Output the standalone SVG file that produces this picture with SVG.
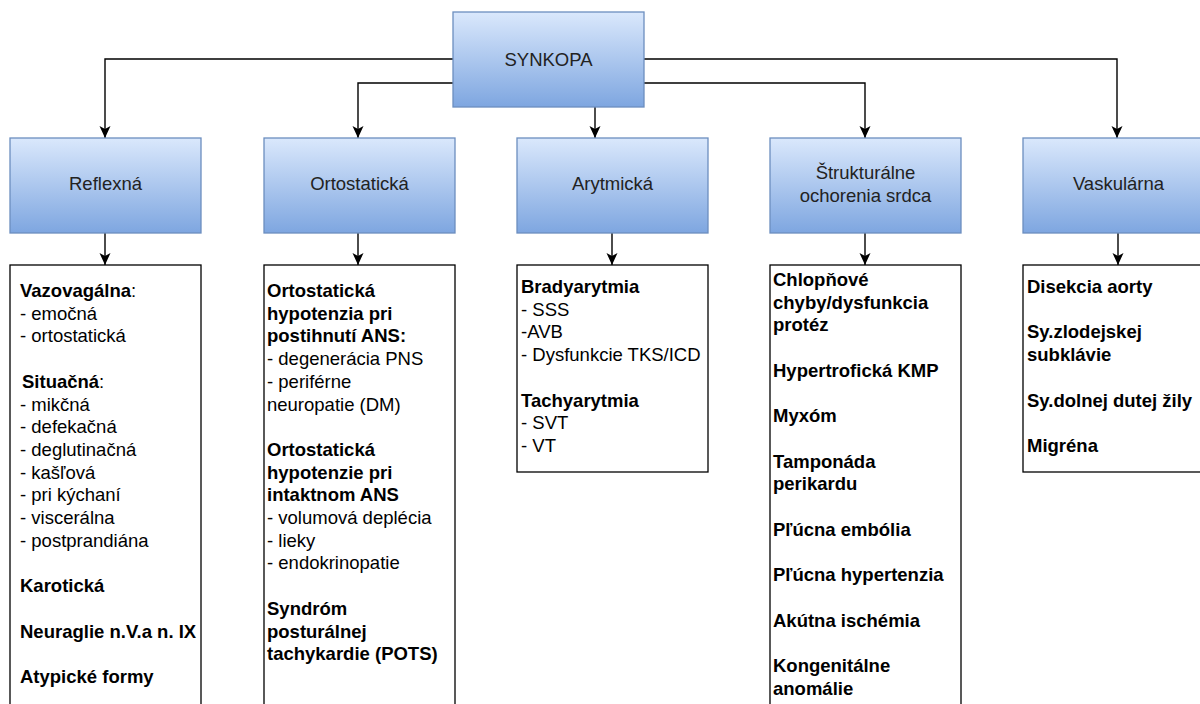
<svg xmlns="http://www.w3.org/2000/svg" width="1200" height="704" viewBox="0 0 1200 704">
<style>
.cat{fill:url(#g);stroke:#6c8ebf;stroke-width:1.3}
.box{fill:#fff;stroke:#000;stroke-width:1.3}
.lbl{font-family:"Liberation Sans",Arial,sans-serif;font-size:18.5px;fill:#222;text-anchor:middle}
.t{font-family:"Liberation Sans",Arial,sans-serif;font-size:18.5px;fill:#000}
.b{font-weight:bold}
.c{fill:none;stroke:#000;stroke-width:1.4;marker-end:url(#a)}
</style>
<defs>
<linearGradient id="g" x1="0" y1="0" x2="0" y2="1">
<stop offset="0" stop-color="#dae8fc"/>
<stop offset="1" stop-color="#7ea6e0"/>
</linearGradient>
<marker id="a" viewBox="0 0 12 12" refX="12" refY="6" markerWidth="12" markerHeight="12" orient="auto" markerUnits="userSpaceOnUse">
<path d="M0,0.5 L12,6 L0,11.5 L3,6 z" fill="#000"/>
</marker>
</defs>

<g id="connectors">
<path class="c" d="M453,59 H105 V138"/>
<path class="c" d="M453,83 H358 V138"/>
<path class="c" d="M595,107 V138"/>
<path class="c" d="M644,83 H865 V138"/>
<path class="c" d="M644,59 H1117 V138"/>
<path class="c" d="M105,233 V265"/>
<path class="c" d="M358,233 V265"/>
<path class="c" d="M612,233 V265"/>
<path class="c" d="M865,233 V265"/>
<path class="c" d="M1118,233 V265"/>
</g>

<g id="synkopa">
<rect class="cat" x="453" y="12" width="191" height="95"/>
<text class="lbl" x="548.5" y="66">SYNKOPA</text>
</g>

<g id="reflexna">
<rect class="cat" x="10" y="138" width="191" height="95"/>
<text class="lbl" x="105.5" y="190">Reflexná</text>
</g>
<g id="ortostaticka">
<rect class="cat" x="264" y="138" width="191" height="95"/>
<text class="lbl" x="359.5" y="190">Ortostatická</text>
</g>
<g id="arytmicka">
<rect class="cat" x="517" y="138" width="191" height="95"/>
<text class="lbl" x="612.5" y="190">Arytmická</text>
</g>
<g id="strukturalne">
<rect class="cat" x="770" y="138" width="191" height="95"/>
<text class="lbl" x="865.5" y="179">Štrukturálne</text>
<text class="lbl" x="865.5" y="202">ochorenia srdca</text>
</g>
<g id="vaskularna">
<rect class="cat" x="1023" y="138" width="191" height="95"/>
<text class="lbl" x="1118.5" y="190">Vaskulárna</text>
</g>

<g id="reflexna-list">
<rect class="box" x="10" y="265" width="191" height="460"/>
<text class="t" x="20" y="297"><tspan class="b">Vazovagálna</tspan>:</text>
<text class="t" x="20" y="319.7">- emočná</text>
<text class="t" x="20" y="342.4">- ortostatická</text>
<text class="t" x="22" y="387.8"><tspan class="b">Situačná</tspan>:</text>
<text class="t" x="20" y="410.5">- mikčná</text>
<text class="t" x="20" y="433.2">- defekačná</text>
<text class="t" x="20" y="455.9">- deglutinačná</text>
<text class="t" x="20" y="478.6">- kašľová</text>
<text class="t" x="20" y="501.3">- pri kýchaní</text>
<text class="t" x="20" y="524">- viscerálna</text>
<text class="t" x="20" y="546.7">- postprandiána</text>
<text class="t b" x="20" y="592.1">Karotická</text>
<text class="t b" x="20" y="637.5">Neuraglie n.V.a n. IX</text>
<text class="t b" x="20" y="682.9">Atypické formy</text>
</g>

<g id="ortostaticka-list">
<rect class="box" x="264" y="265" width="191" height="460"/>
<text class="t b" x="267" y="297">Ortostatická</text>
<text class="t b" x="267" y="319.7">hypotenzia pri</text>
<text class="t b" x="267" y="342.4">postihnutí ANS:</text>
<text class="t" x="267" y="365.1">- degenerácia PNS</text>
<text class="t" x="267" y="387.8">- periférne</text>
<text class="t" x="267" y="410.5">neuropatie (DM)</text>
<text class="t b" x="267" y="455.9">Ortostatická</text>
<text class="t b" x="267" y="478.6">hypotenzie pri</text>
<text class="t b" x="267" y="501.3">intaktnom ANS</text>
<text class="t" x="267" y="524">- volumová deplécia</text>
<text class="t" x="267" y="546.7">- lieky</text>
<text class="t" x="267" y="569.4">- endokrinopatie</text>
<text class="t b" x="267" y="614.8">Syndróm</text>
<text class="t b" x="267" y="637.5">posturálnej</text>
<text class="t b" x="267" y="660.2">tachykardie (POTS)</text>
</g>

<g id="arytmicka-list">
<rect class="box" x="517" y="265" width="191" height="207"/>
<text class="t b" x="521" y="293">Bradyarytmia</text>
<text class="t" x="521" y="315.7">- SSS</text>
<text class="t" x="521" y="338.4">-AVB</text>
<text class="t" x="521" y="361.1">- Dysfunkcie TKS/ICD</text>
<text class="t b" x="521" y="406.5">Tachyarytmia</text>
<text class="t" x="521" y="429.2">- SVT</text>
<text class="t" x="521" y="451.9">- VT</text>
</g>

<g id="strukturalne-list">
<rect class="box" x="770" y="265" width="191" height="460"/>
<text class="t b" x="773" y="286">Chlopňové</text>
<text class="t b" x="773" y="308.7">chyby/dysfunkcia</text>
<text class="t b" x="773" y="331.4">protéz</text>
<text class="t b" x="773" y="376.8">Hypertrofická KMP</text>
<text class="t b" x="773" y="422.2">Myxóm</text>
<text class="t b" x="773" y="467.6">Tamponáda</text>
<text class="t b" x="773" y="490.3">perikardu</text>
<text class="t b" x="773" y="535.7">Pľúcna embólia</text>
<text class="t b" x="773" y="581.1">Pľúcna hypertenzia</text>
<text class="t b" x="773" y="626.5">Akútna ischémia</text>
<text class="t b" x="773" y="671.9">Kongenitálne</text>
<text class="t b" x="773" y="694.6">anomálie</text>
</g>

<g id="vaskularna-list">
<rect class="box" x="1023" y="265" width="191" height="207"/>
<text class="t b" x="1027" y="293">Disekcia aorty</text>
<text class="t b" x="1027" y="338.4">Sy.zlodejskej</text>
<text class="t b" x="1027" y="361.1">subklávie</text>
<text class="t b" x="1027" y="406.5">Sy.dolnej dutej žily</text>
<text class="t b" x="1027" y="451.9">Migréna</text>
</g>
</svg>
